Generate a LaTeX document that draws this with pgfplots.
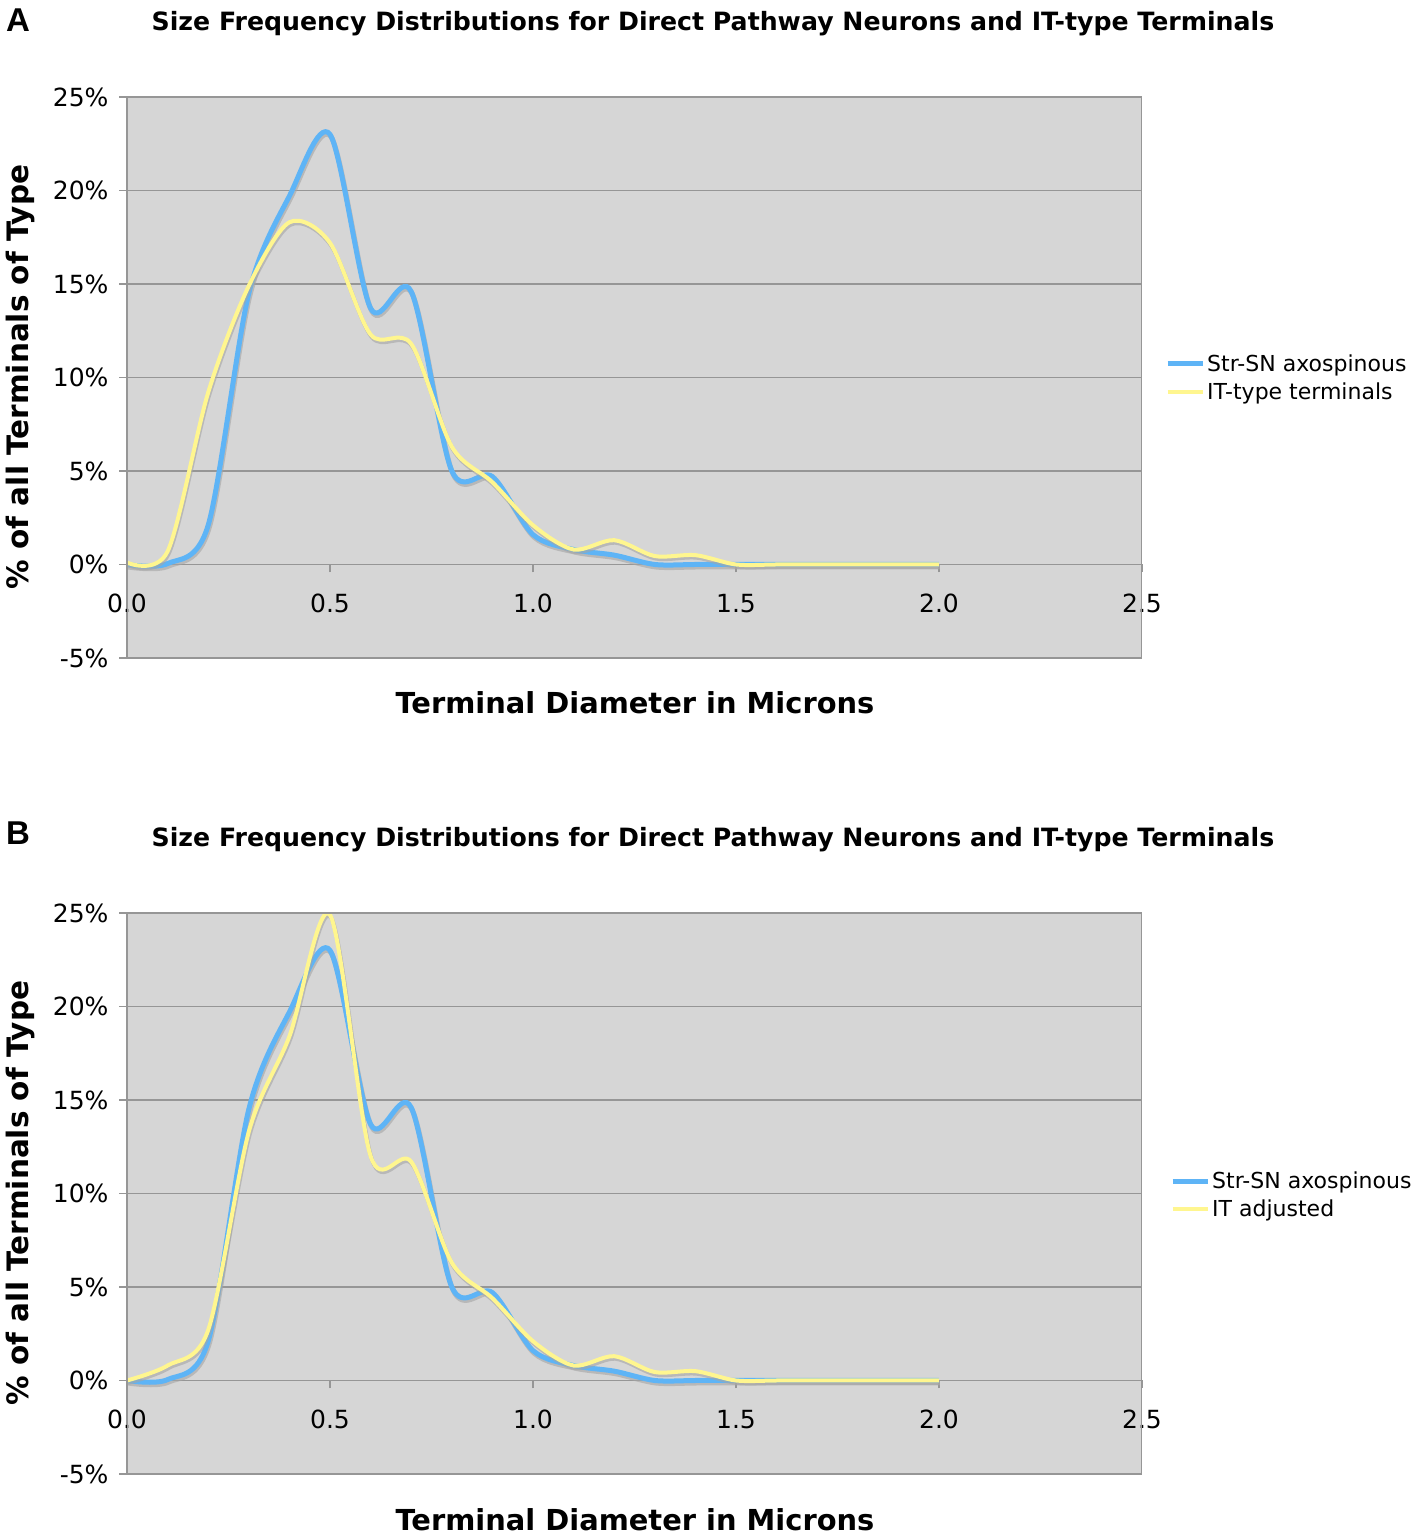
\documentclass[border=0pt]{standalone}
\usepackage{pgfplots}
\pgfplotsset{compat=1.18}
\usepackage{pgfplotstable}
\usepackage{fontspec}
\setmainfont{DejaVu Sans}
\newfontfamily\panelfont{Liberation Sans}

\definecolor{bgray}{RGB}{214,214,214}
\definecolor{ggray}{RGB}{150,150,150}
\definecolor{sblue}{RGB}{94,180,246}
\definecolor{syellow}{RGB}{255,246,143}
\definecolor{shad}{RGB}{165,165,165}

\pgfplotstableread{
x y
0.0 0.0
0.1 0.05
0.2 2.1
0.3 14.5
0.4 19.7
0.5 23.0
0.6 13.7
0.7 14.6
0.8 5.0
0.9 4.7
1.0 1.6
1.1 0.8
1.2 0.5
1.3 0.0
1.4 0.0
1.5 0.0
1.6 0.0
1.7 0.0
1.8 0.0
1.9 0.0
2.0 0.0
}\strsn

\pgfplotstableread{
x y
0.0 0.1
0.1 0.7
0.2 9.2
0.3 14.9
0.4 18.3
0.5 17.2
0.6 12.3
0.7 11.8
0.8 6.3
0.9 4.4
1.0 2.1
1.1 0.8
1.2 1.3
1.3 0.45
1.4 0.5
1.5 0.0
1.6 0.0
1.7 0.0
1.8 0.0
1.9 0.0
2.0 0.0
}\ittype

\pgfplotstableread{
x y
0.0 0.0
0.1 0.8
0.2 2.7
0.3 13.3
0.4 18.4
0.5 24.9
0.6 12.0
0.7 11.7
0.8 6.3
0.9 4.4
1.0 2.1
1.1 0.8
1.2 1.3
1.3 0.45
1.4 0.5
1.5 0.0
1.6 0.0
1.7 0.0
1.8 0.0
1.9 0.0
2.0 0.0
}\itadj

\pgfplotsset{
  panel/.style={
    scale only axis, width=1015pt, height=561pt,
    xmin=0, xmax=2.5, ymin=-5, ymax=25,
    axis x line=middle, axis y line=left,
    axis line style={ggray, line width=1.2pt, -},
    axis background/.style={fill=bgray},
    ymajorgrids, grid style={ggray, line width=1.2pt},
    xtick={0,0.5,1,1.5,2,2.5},
    xticklabels={0.0,0.5,1.0,1.5,2.0,2.5},
    ytick={-5,0,5,10,15,20,25},
    yticklabels={-5\%,0\%,5\%,10\%,15\%,20\%,25\%},
    hide obscured x ticks=false,
    hide obscured y ticks=false,
    tick align=outside, major tick length=8pt,
    tick style={ggray, line width=1.2pt},
    tick label style={font=\fontsize{25}{30}\selectfont, text=black},
    xticklabel style={anchor=north, yshift=-18pt},
    yticklabel style={anchor=east, xshift=-7pt},
    legend style={draw=none, fill=none, anchor=west,
      font=\fontsize{22}{26}\selectfont, inner sep=0pt,
      row sep=6pt},
    legend cell align=left,
    legend image code/.code={\draw[##1] (0pt,0pt) -- (35pt,0pt);},
  },
  shadow/.style={shad, line width=5pt, smooth, tension=0.5, opacity=0.6, forget plot, yshift=-2.5pt, xshift=1pt},
}

\begin{document}
\begin{tikzpicture}
\path[use as bounding box] (0pt,0pt) rectangle (1418pt,1536pt);

% ---------- Panel A ----------
\begin{axis}[panel, at={(127pt,878pt)}, anchor=south west,
  legend style={at={(1.0227,0.499)}}]
  \addplot[shadow] table[x=x,y=y] {\strsn};
  \addplot[sblue, line width=5pt, smooth, tension=0.5] table[x=x,y=y] {\strsn};
  \addlegendentry{Str-SN axospinous}
  \addplot[shadow, line width=4pt] table[x=x,y=y] {\ittype};
  \addplot[syellow, line width=4pt, smooth, tension=0.5] table[x=x,y=y] {\ittype};
  \addlegendentry{IT-type terminals}
  \draw[ggray, line width=1.2pt] (rel axis cs:0,0) rectangle (rel axis cs:1,1);
\end{axis}

\node[font=\fontsize{25.2}{29}\selectfont\bfseries] at (713pt,1512pt) {Size Frequency Distributions for Direct Pathway Neurons and IT-type Terminals};
\node[font=\fontsize{33}{36}\selectfont\bfseries\panelfont] at (18pt,1516pt) {A};
\node[font=\fontsize{28.9}{32}\selectfont\bfseries] at (635pt,833pt) {Terminal Diameter in Microns};
\node[font=\fontsize{29.5}{33}\selectfont\bfseries, rotate=90] at (20pt,1159pt) {\% of all Terminals of Type};

% ---------- Panel B ----------
\begin{axis}[panel, at={(127pt,62pt)}, anchor=south west,
  legend style={at={(1.0276,0.497)}}]
  \addplot[shadow] table[x=x,y=y] {\strsn};
  \addplot[sblue, line width=5pt, smooth, tension=0.5] table[x=x,y=y] {\strsn};
  \addlegendentry{Str-SN axospinous}
  \addplot[shadow, line width=4pt] table[x=x,y=y] {\itadj};
  \addplot[syellow, line width=4pt, smooth, tension=0.5] table[x=x,y=y] {\itadj};
  \addlegendentry{IT adjusted}
  \draw[ggray, line width=1.2pt] (rel axis cs:0,0) rectangle (rel axis cs:1,1);
\end{axis}

\node[font=\fontsize{25.2}{29}\selectfont\bfseries] at (713pt,696pt) {Size Frequency Distributions for Direct Pathway Neurons and IT-type Terminals};
\node[font=\fontsize{33}{36}\selectfont\bfseries\panelfont] at (18pt,703pt) {B};
\node[font=\fontsize{28.9}{32}\selectfont\bfseries] at (635pt,16pt) {Terminal Diameter in Microns};
\node[font=\fontsize{29.5}{33}\selectfont\bfseries, rotate=90] at (20pt,343pt) {\% of all Terminals of Type};
\end{tikzpicture}
\end{document}
